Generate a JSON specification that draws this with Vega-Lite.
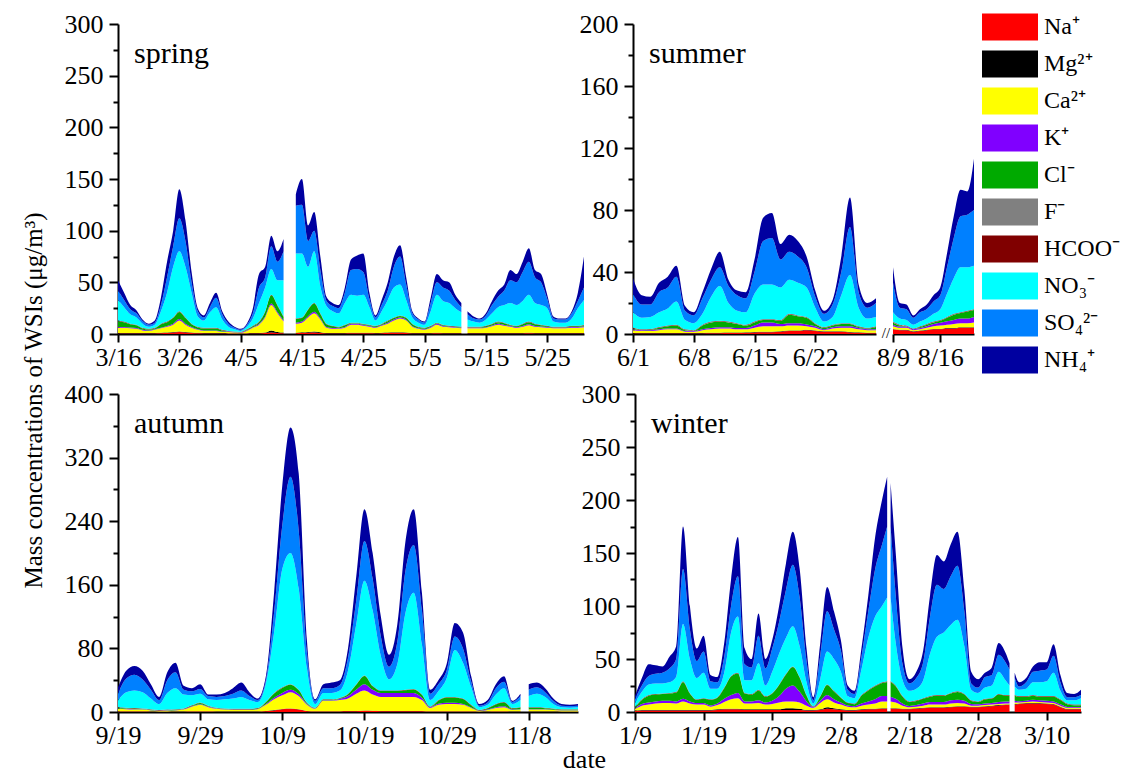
{
"$schema":"https://vega.github.io/schema/vega-lite/v6.json",
"background":"white",
"padding":{"left":21,"top":11,"right":5,"bottom":5},
"config":{
 "font":"Liberation Serif",
 "view":{"stroke":null},
 "axis":{"labelFont":"Liberation Serif","labelFontSize":26,"labelColor":"black","domainColor":"black","domainWidth":2,"tickColor":"black","tickWidth":2,"grid":false,"titleFont":"Liberation Serif","titleFontWeight":"normal","titleColor":"black","titleFontSize":26,"labelOverlap":false,"labelFlush":false,"labelBound":false},
 "axisX":{"tickSize":8,"labelPadding":2,"format":"%-m/%-d","labelAngle":0},
 "axisY":{"labelPadding":6},
 "title":{"font":"Liberation Serif","fontSize":30,"fontWeight":"normal","anchor":"start","frame":"group","offset":-58,"dx":16,"baseline":"alphabetic","color":"black"},
 "legend":{"labelFont":"Liberation Serif","labelFontSize":24,"labelColor":"black","symbolType":"M-2,-0.96H2V0.96H-2Z","symbolSize":784,"symbolStrokeWidth":0,"rowPadding":9,"labelOffset":20,"padding":0}
},
"datasets":{
"ions":[{"ion":"Na","rank":0,"label":"Na⁺"},{"ion":"Mg","rank":1,"label":"Mg²⁺"},{"ion":"Ca","rank":2,"label":"Ca²⁺"},{"ion":"K","rank":3,"label":"K⁺"},{"ion":"Cl","rank":4,"label":"Cl⁻"},{"ion":"F","rank":5,"label":"F⁻"},{"ion":"HCOO","rank":6,"label":"HCOO⁻"},{"ion":"NO3","rank":7,"label":"NO₃⁻"},{"ion":"SO4","rank":8,"label":"SO₄²⁻"},{"ion":"NH4","rank":9,"label":"NH₄⁺"}],
"spring":[
{"d":"2014/03/16","g":1,"Na":0.6,"Mg":0.4,"Ca":5,"K":0.8,"Cl":5.6,"F":0.2,"HCOO":0.4,"NO3":20,"SO4":9,"NH4":10},
{"d":"2014/03/17","g":1,"Na":0.6,"Mg":0.4,"Ca":5,"K":0.8,"Cl":4.6,"F":0.2,"HCOO":0.4,"NO3":14,"SO4":7,"NH4":7},
{"d":"2014/03/18","g":1,"Na":0.6,"Mg":0.4,"Ca":4.5,"K":0.7,"Cl":3.2,"F":0.2,"HCOO":0.4,"NO3":9,"SO4":5,"NH4":4},
{"d":"2014/03/19","g":1,"Na":0.6,"Mg":0.4,"Ca":4,"K":0.7,"Cl":2.7,"F":0.2,"HCOO":0.4,"NO3":7,"SO4":4,"NH4":3},
{"d":"2014/03/20","g":1,"Na":0.5,"Mg":0.4,"Ca":2.6,"K":0.5,"Cl":1.4,"F":0.2,"HCOO":0.4,"NO3":4,"SO4":2.5,"NH4":1.5},
{"d":"2014/03/21","g":1,"Na":0.5,"Mg":0.4,"Ca":2.1,"K":0.5,"Cl":0.9,"F":0.2,"HCOO":0.4,"NO3":2,"SO4":2,"NH4":1},
{"d":"2014/03/22","g":1,"Na":0.6,"Mg":0.4,"Ca":3,"K":0.5,"Cl":0.9,"F":0.2,"HCOO":0.4,"NO3":3,"SO4":2,"NH4":2},
{"d":"2014/03/23","g":1,"Na":0.8,"Mg":0.4,"Ca":4.3,"K":0.6,"Cl":3.3,"F":0.2,"HCOO":0.4,"NO3":12,"SO4":6,"NH4":7},
{"d":"2014/03/24","g":1,"Na":1,"Mg":0.4,"Ca":5.6,"K":0.8,"Cl":3.6,"F":0.2,"HCOO":0.4,"NO3":28,"SO4":15,"NH4":15},
{"d":"2014/03/25","g":1,"Na":1.5,"Mg":0.4,"Ca":7.1,"K":1,"Cl":5.4,"F":0.2,"HCOO":0.4,"NO3":49,"SO4":20,"NH4":15},
{"d":"2014/03/26","g":1,"Na":2,"Mg":0.4,"Ca":10.6,"K":1.5,"Cl":6.9,"F":0.2,"HCOO":0.4,"NO3":58,"SO4":32,"NH4":28},
{"d":"2014/03/27","g":1,"Na":1.5,"Mg":0.4,"Ca":7.1,"K":1,"Cl":5.4,"F":0.2,"HCOO":0.4,"NO3":49,"SO4":25,"NH4":20},
{"d":"2014/03/28","g":1,"Na":1,"Mg":0.4,"Ca":4.6,"K":0.8,"Cl":2.6,"F":0.2,"HCOO":0.4,"NO3":30,"SO4":10,"NH4":10},
{"d":"2014/03/29","g":1,"Na":0.7,"Mg":0.4,"Ca":2.9,"K":0.6,"Cl":1.8,"F":0.2,"HCOO":0.4,"NO3":10,"SO4":5,"NH4":3},
{"d":"2014/03/30","g":1,"Na":0.6,"Mg":0.4,"Ca":2,"K":0.5,"Cl":1.9,"F":0.2,"HCOO":0.4,"NO3":7,"SO4":3,"NH4":2},
{"d":"2014/03/31","g":1,"Na":0.6,"Mg":0.4,"Ca":2,"K":0.5,"Cl":1.9,"F":0.2,"HCOO":0.4,"NO3":15,"SO4":5,"NH4":4},
{"d":"2014/04/01","g":1,"Na":0.6,"Mg":0.4,"Ca":2,"K":0.5,"Cl":1.9,"F":0.2,"HCOO":0.4,"NO3":20,"SO4":9,"NH4":5},
{"d":"2014/04/02","g":1,"Na":0.5,"Mg":0.4,"Ca":1.1,"K":0.4,"Cl":1,"F":0.2,"HCOO":0.4,"NO3":10,"SO4":5,"NH4":3},
{"d":"2014/04/03","g":1,"Na":0.4,"Mg":0.4,"Ca":1.2,"K":0.3,"Cl":0.1,"F":0.2,"HCOO":0.4,"NO3":4,"SO4":3,"NH4":2},
{"d":"2014/04/04","g":1,"Na":0.4,"Mg":0.4,"Ca":0.7,"K":0.3,"Cl":0.1,"F":0.2,"HCOO":0.4,"NO3":2,"SO4":1.5,"NH4":1},
{"d":"2014/04/05","g":1,"Na":0.3,"Mg":0.4,"Ca":0.5,"K":0.2,"Cl":0,"F":0.2,"HCOO":0.4,"NO3":1,"SO4":1,"NH4":1},
{"d":"2014/04/06","g":1,"Na":0.4,"Mg":0.4,"Ca":2.2,"K":0.4,"Cl":0.5,"F":0.2,"HCOO":0.4,"NO3":2.5,"SO4":1.5,"NH4":1.5},
{"d":"2014/04/07","g":1,"Na":0.5,"Mg":0.4,"Ca":5.1,"K":0.6,"Cl":0.8,"F":0.2,"HCOO":0.4,"NO3":7,"SO4":5,"NH4":5},
{"d":"2014/04/08","g":1,"Na":0.6,"Mg":0.4,"Ca":8,"K":0.8,"Cl":1.6,"F":0.2,"HCOO":0.4,"NO3":18,"SO4":15,"NH4":13},
{"d":"2014/04/09","g":1,"Na":1,"Mg":0.4,"Ca":14.6,"K":1,"Cl":4.4,"F":0.2,"HCOO":0.4,"NO3":23,"SO4":10,"NH4":10},
{"d":"2014/04/10","g":1,"Na":1.5,"Mg":2,"Ca":24.5,"K":1.5,"Cl":7.9,"F":0.2,"HCOO":0.4,"NO3":25,"SO4":22,"NH4":10},
{"d":"2014/04/11","g":1,"Na":1,"Mg":1,"Ca":18,"K":1.2,"Cl":6.2,"F":0.2,"HCOO":0.4,"NO3":24,"SO4":18,"NH4":10},
{"d":"2014/04/12","g":1,"Na":0.8,"Mg":0.6,"Ca":10.6,"K":1,"Cl":3.4,"F":0.2,"HCOO":0.4,"NO3":35,"SO4":28,"NH4":12},
{"d":"2014/04/14","g":2,"Na":0.8,"Mg":0.5,"Ca":8.7,"K":1,"Cl":3.4,"F":0.2,"HCOO":0.4,"NO3":63,"SO4":46,"NH4":11},
{"d":"2014/04/15","g":2,"Na":1,"Mg":0.6,"Ca":9.4,"K":1,"Cl":3.4,"F":0.2,"HCOO":0.4,"NO3":62,"SO4":47,"NH4":25},
{"d":"2014/04/16","g":2,"Na":1.2,"Mg":0.8,"Ca":14,"K":1.2,"Cl":6.2,"F":0.2,"HCOO":0.4,"NO3":41,"SO4":25,"NH4":15},
{"d":"2014/04/17","g":2,"Na":1.5,"Mg":1,"Ca":17.5,"K":1.5,"Cl":7.9,"F":0.2,"HCOO":0.4,"NO3":50,"SO4":20,"NH4":18},
{"d":"2014/04/18","g":2,"Na":1,"Mg":0.6,"Ca":12.4,"K":1,"Cl":4.4,"F":0.2,"HCOO":0.4,"NO3":26,"SO4":16,"NH4":13},
{"d":"2014/04/19","g":2,"Na":0.6,"Mg":0.4,"Ca":5,"K":0.8,"Cl":2.6,"F":0.2,"HCOO":0.4,"NO3":17,"SO4":5,"NH4":4},
{"d":"2014/04/20","g":2,"Na":0.6,"Mg":0.4,"Ca":4,"K":0.7,"Cl":1.7,"F":0.2,"HCOO":0.4,"NO3":14,"SO4":5,"NH4":3},
{"d":"2014/04/21","g":2,"Na":0.6,"Mg":0.4,"Ca":4,"K":0.6,"Cl":0.8,"F":0.2,"HCOO":0.4,"NO3":13,"SO4":5,"NH4":3},
{"d":"2014/04/22","g":2,"Na":0.6,"Mg":0.4,"Ca":5,"K":0.7,"Cl":1.7,"F":0.2,"HCOO":0.4,"NO3":21,"SO4":10,"NH4":5},
{"d":"2014/04/23","g":2,"Na":0.8,"Mg":0.4,"Ca":7.8,"K":0.8,"Cl":0.6,"F":0.2,"HCOO":0.4,"NO3":27,"SO4":24,"NH4":10},
{"d":"2014/04/24","g":2,"Na":0.8,"Mg":0.4,"Ca":7.8,"K":0.8,"Cl":0.6,"F":0.2,"HCOO":0.4,"NO3":26,"SO4":26,"NH4":13},
{"d":"2014/04/25","g":2,"Na":0.8,"Mg":0.4,"Ca":6.8,"K":0.8,"Cl":0.6,"F":0.2,"HCOO":0.4,"NO3":28,"SO4":22,"NH4":18},
{"d":"2014/04/26","g":2,"Na":0.7,"Mg":0.4,"Ca":5.9,"K":0.7,"Cl":0.7,"F":0.2,"HCOO":0.4,"NO3":17,"SO4":8,"NH4":6},
{"d":"2014/04/27","g":2,"Na":0.6,"Mg":0.4,"Ca":5,"K":0.6,"Cl":0.8,"F":0.2,"HCOO":0.4,"NO3":5,"SO4":3,"NH4":2},
{"d":"2014/04/28","g":2,"Na":0.8,"Mg":0.4,"Ca":6.8,"K":0.7,"Cl":0.7,"F":0.2,"HCOO":0.4,"NO3":12,"SO4":6,"NH4":5},
{"d":"2014/04/29","g":2,"Na":1,"Mg":0.4,"Ca":8.6,"K":0.9,"Cl":1.5,"F":0.2,"HCOO":0.4,"NO3":20,"SO4":9,"NH4":8},
{"d":"2014/04/30","g":2,"Na":1.2,"Mg":0.4,"Ca":11.4,"K":1,"Cl":1.4,"F":0.2,"HCOO":0.4,"NO3":29,"SO4":20,"NH4":10},
{"d":"2014/05/01","g":2,"Na":1.2,"Mg":0.4,"Ca":13.4,"K":1,"Cl":1.4,"F":0.2,"HCOO":0.4,"NO3":30,"SO4":27,"NH4":11},
{"d":"2014/05/02","g":2,"Na":1,"Mg":0.4,"Ca":11.6,"K":0.9,"Cl":1.5,"F":0.2,"HCOO":0.4,"NO3":17,"SO4":15,"NH4":7},
{"d":"2014/05/03","g":2,"Na":0.6,"Mg":0.4,"Ca":6,"K":0.7,"Cl":1.7,"F":0.2,"HCOO":0.4,"NO3":6,"SO4":4,"NH4":2},
{"d":"2014/05/04","g":2,"Na":0.5,"Mg":0.4,"Ca":4.1,"K":0.5,"Cl":0.9,"F":0.2,"HCOO":0.4,"NO3":4,"SO4":3,"NH4":1},
{"d":"2014/05/05","g":2,"Na":0.5,"Mg":0.4,"Ca":3.1,"K":0.5,"Cl":0.9,"F":0.2,"HCOO":0.4,"NO3":3,"SO4":2,"NH4":1},
{"d":"2014/05/06","g":2,"Na":0.6,"Mg":0.4,"Ca":5,"K":0.7,"Cl":0.7,"F":0.2,"HCOO":0.4,"NO3":14,"SO4":8,"NH4":5},
{"d":"2014/05/07","g":2,"Na":0.7,"Mg":0.4,"Ca":7.9,"K":1,"Cl":0.4,"F":0.2,"HCOO":0.4,"NO3":27,"SO4":12,"NH4":8},
{"d":"2014/05/08","g":2,"Na":0.6,"Mg":0.4,"Ca":6,"K":0.8,"Cl":0.6,"F":0.2,"HCOO":0.4,"NO3":23,"SO4":13,"NH4":7},
{"d":"2014/05/09","g":2,"Na":0.6,"Mg":0.4,"Ca":5.5,"K":0.7,"Cl":0.2,"F":0.2,"HCOO":0.4,"NO3":22,"SO4":12,"NH4":8},
{"d":"2014/05/10","g":2,"Na":0.6,"Mg":0.4,"Ca":5,"K":0.6,"Cl":0.3,"F":0.2,"HCOO":0.4,"NO3":17.5,"SO4":8,"NH4":5},
{"d":"2014/05/11","g":2,"Na":0.6,"Mg":0.4,"Ca":4.5,"K":0.6,"Cl":0.3,"F":0.2,"HCOO":0.4,"NO3":14,"SO4":5,"NH4":4},
{"d":"2014/05/12","g":3,"Na":0.5,"Mg":0.4,"Ca":4.6,"K":0.6,"Cl":0.3,"F":0.2,"HCOO":0.4,"NO3":7,"SO4":5,"NH4":3},
{"d":"2014/05/13","g":3,"Na":0.5,"Mg":0.4,"Ca":4.6,"K":0.5,"Cl":0.4,"F":0.2,"HCOO":0.4,"NO3":5,"SO4":3,"NH4":2},
{"d":"2014/05/14","g":3,"Na":0.5,"Mg":0.4,"Ca":4.6,"K":0.5,"Cl":0.4,"F":0.2,"HCOO":0.4,"NO3":4,"SO4":3,"NH4":1},
{"d":"2014/05/15","g":3,"Na":0.5,"Mg":0.4,"Ca":5.1,"K":0.6,"Cl":0.8,"F":0.2,"HCOO":0.4,"NO3":6,"SO4":4,"NH4":2},
{"d":"2014/05/16","g":3,"Na":0.6,"Mg":0.4,"Ca":6.5,"K":0.7,"Cl":1.2,"F":0.2,"HCOO":0.4,"NO3":10,"SO4":8,"NH4":4},
{"d":"2014/05/17","g":3,"Na":0.6,"Mg":0.4,"Ca":8,"K":0.8,"Cl":1.6,"F":0.2,"HCOO":0.4,"NO3":14,"SO4":10,"NH4":6},
{"d":"2014/05/18","g":3,"Na":0.6,"Mg":0.4,"Ca":7,"K":0.8,"Cl":1.6,"F":0.2,"HCOO":0.4,"NO3":17,"SO4":14,"NH4":6},
{"d":"2014/05/19","g":3,"Na":0.6,"Mg":0.4,"Ca":6,"K":0.7,"Cl":0.7,"F":0.2,"HCOO":0.4,"NO3":21,"SO4":22,"NH4":10},
{"d":"2014/05/20","g":3,"Na":0.6,"Mg":0.4,"Ca":5,"K":0.7,"Cl":0.7,"F":0.2,"HCOO":0.4,"NO3":20,"SO4":22,"NH4":8},
{"d":"2014/05/21","g":3,"Na":0.6,"Mg":0.4,"Ca":6,"K":0.8,"Cl":1.6,"F":0.2,"HCOO":0.4,"NO3":22,"SO4":28,"NH4":10},
{"d":"2014/05/22","g":3,"Na":0.7,"Mg":0.4,"Ca":7.4,"K":1,"Cl":1.9,"F":0.2,"HCOO":0.4,"NO3":26,"SO4":32,"NH4":13},
{"d":"2014/05/23","g":3,"Na":0.6,"Mg":0.4,"Ca":6,"K":0.8,"Cl":1.6,"F":0.2,"HCOO":0.4,"NO3":20,"SO4":25,"NH4":7},
{"d":"2014/05/24","g":3,"Na":0.6,"Mg":0.4,"Ca":5.5,"K":0.8,"Cl":1.1,"F":0.2,"HCOO":0.4,"NO3":19,"SO4":22,"NH4":8},
{"d":"2014/05/25","g":3,"Na":0.6,"Mg":0.4,"Ca":5,"K":0.7,"Cl":0.7,"F":0.2,"HCOO":0.4,"NO3":17,"SO4":9,"NH4":4},
{"d":"2014/05/26","g":3,"Na":0.5,"Mg":0.4,"Ca":4.6,"K":0.6,"Cl":0.3,"F":0.2,"HCOO":0.4,"NO3":5,"SO4":3,"NH4":2},
{"d":"2014/05/27","g":3,"Na":0.5,"Mg":0.4,"Ca":4.6,"K":0.6,"Cl":0.3,"F":0.2,"HCOO":0.4,"NO3":4,"SO4":3,"NH4":1},
{"d":"2014/05/28","g":3,"Na":0.5,"Mg":0.4,"Ca":4.6,"K":0.6,"Cl":0.3,"F":0.2,"HCOO":0.4,"NO3":4,"SO4":3,"NH4":1},
{"d":"2014/05/29","g":3,"Na":0.5,"Mg":0.4,"Ca":5.1,"K":0.7,"Cl":0.7,"F":0.2,"HCOO":0.4,"NO3":7,"SO4":5,"NH4":2},
{"d":"2014/05/30","g":3,"Na":0.5,"Mg":0.4,"Ca":5.1,"K":0.8,"Cl":0.6,"F":0.2,"HCOO":0.4,"NO3":17,"SO4":7,"NH4":8},
{"d":"2014/05/31","g":3,"Na":0.5,"Mg":0.4,"Ca":5.6,"K":1,"Cl":0.9,"F":0.2,"HCOO":0.4,"NO3":24,"SO4":12,"NH4":30}
],
"summer":[
{"d":"2014/06/01","g":1,"Na":0.3,"Mg":0.3,"Ca":1.9,"K":0.5,"Cl":0.5,"F":0.2,"HCOO":0.3,"NO3":10,"SO4":12,"NH4":10},
{"d":"2014/06/02","g":1,"Na":0.3,"Mg":0.3,"Ca":1.4,"K":0.4,"Cl":0.1,"F":0.2,"HCOO":0.3,"NO3":7.5,"SO4":8.5,"NH4":6},
{"d":"2014/06/03","g":1,"Na":0.3,"Mg":0.3,"Ca":1.4,"K":0.4,"Cl":0.3,"F":0.2,"HCOO":0.3,"NO3":7.8,"SO4":8,"NH4":5},
{"d":"2014/06/04","g":1,"Na":0.3,"Mg":0.3,"Ca":1.9,"K":0.5,"Cl":1,"F":0.2,"HCOO":0.3,"NO3":9.5,"SO4":13,"NH4":6},
{"d":"2014/06/05","g":1,"Na":0.4,"Mg":0.3,"Ca":2.3,"K":0.6,"Cl":1.4,"F":0.2,"HCOO":0.3,"NO3":11,"SO4":13.5,"NH4":7},
{"d":"2014/06/06","g":1,"Na":0.4,"Mg":0.3,"Ca":2.3,"K":0.6,"Cl":1.9,"F":0.2,"HCOO":0.3,"NO3":15,"SO4":16,"NH4":7},
{"d":"2014/06/07","g":1,"Na":0.3,"Mg":0.3,"Ca":0.9,"K":0.4,"Cl":0.6,"F":0.2,"HCOO":0.3,"NO3":6,"SO4":6,"NH4":3},
{"d":"2014/06/08","g":1,"Na":0.3,"Mg":0.3,"Ca":0.9,"K":0.4,"Cl":0.1,"F":0.2,"HCOO":0.3,"NO3":4.5,"SO4":5,"NH4":2},
{"d":"2014/06/09","g":1,"Na":0.4,"Mg":0.3,"Ca":1.8,"K":0.6,"Cl":2.4,"F":0.2,"HCOO":0.3,"NO3":7,"SO4":10,"NH4":4},
{"d":"2014/06/10","g":1,"Na":0.5,"Mg":0.3,"Ca":2.2,"K":0.8,"Cl":3.7,"F":0.2,"HCOO":0.3,"NO3":16,"SO4":11,"NH4":7},
{"d":"2014/06/11","g":1,"Na":0.5,"Mg":0.3,"Ca":2.7,"K":0.8,"Cl":3.7,"F":0.2,"HCOO":0.3,"NO3":22.5,"SO4":12,"NH4":10},
{"d":"2014/06/12","g":1,"Na":0.6,"Mg":0.3,"Ca":2.6,"K":0.8,"Cl":3.2,"F":0.2,"HCOO":0.3,"NO3":12,"SO4":11,"NH4":4},
{"d":"2014/06/13","g":1,"Na":0.6,"Mg":0.3,"Ca":2.1,"K":0.8,"Cl":2.7,"F":0.2,"HCOO":0.3,"NO3":8,"SO4":10,"NH4":3},
{"d":"2014/06/14","g":1,"Na":0.8,"Mg":0.3,"Ca":1.9,"K":0.8,"Cl":1.7,"F":0.2,"HCOO":0.3,"NO3":8,"SO4":9,"NH4":4},
{"d":"2014/06/15","g":1,"Na":1,"Mg":0.3,"Ca":2.7,"K":1.5,"Cl":2,"F":0.2,"HCOO":0.3,"NO3":18,"SO4":14,"NH4":8},
{"d":"2014/06/16","g":1,"Na":1.2,"Mg":0.3,"Ca":3.5,"K":2.5,"Cl":1.5,"F":0.2,"HCOO":0.3,"NO3":22.5,"SO4":28,"NH4":15},
{"d":"2014/06/17","g":1,"Na":1.2,"Mg":0.3,"Ca":3.5,"K":2.5,"Cl":1.5,"F":0.2,"HCOO":0.3,"NO3":22.5,"SO4":30,"NH4":16},
{"d":"2014/06/18","g":1,"Na":1.5,"Mg":0.3,"Ca":3.2,"K":1.5,"Cl":2,"F":0.2,"HCOO":0.3,"NO3":21,"SO4":18,"NH4":10},
{"d":"2014/06/19","g":1,"Na":2,"Mg":0.3,"Ca":3.2,"K":1.5,"Cl":5.5,"F":0.2,"HCOO":0.3,"NO3":22,"SO4":18,"NH4":11},
{"d":"2014/06/20","g":1,"Na":2,"Mg":0.3,"Ca":3.2,"K":1.5,"Cl":4.5,"F":0.2,"HCOO":0.3,"NO3":21,"SO4":17,"NH4":10},
{"d":"2014/06/21","g":1,"Na":2.5,"Mg":0.3,"Ca":2.2,"K":1.2,"Cl":4.3,"F":0.2,"HCOO":0.3,"NO3":19,"SO4":13,"NH4":7},
{"d":"2014/06/22","g":1,"Na":2,"Mg":0.3,"Ca":1.7,"K":1,"Cl":1.5,"F":0.2,"HCOO":0.3,"NO3":10,"SO4":7,"NH4":4},
{"d":"2014/06/23","g":1,"Na":1.5,"Mg":0.3,"Ca":0.7,"K":0.6,"Cl":0.9,"F":0.2,"HCOO":0.3,"NO3":3.5,"SO4":5,"NH4":2},
{"d":"2014/06/24","g":1,"Na":1.5,"Mg":0.3,"Ca":1.7,"K":0.8,"Cl":1.2,"F":0.2,"HCOO":0.3,"NO3":5,"SO4":8,"NH4":3},
{"d":"2014/06/25","g":1,"Na":1.5,"Mg":0.3,"Ca":2.2,"K":1,"Cl":1.5,"F":0.2,"HCOO":0.3,"NO3":18,"SO4":15,"NH4":10},
{"d":"2014/06/26","g":1,"Na":1,"Mg":0.3,"Ca":2.7,"K":1,"Cl":1.5,"F":0.2,"HCOO":0.3,"NO3":31,"SO4":31,"NH4":19},
{"d":"2014/06/27","g":1,"Na":0.8,"Mg":0.3,"Ca":1.9,"K":0.8,"Cl":0.7,"F":0.2,"HCOO":0.3,"NO3":12,"SO4":10,"NH4":5},
{"d":"2014/06/28","g":1,"Na":0.5,"Mg":0.3,"Ca":1.7,"K":0.5,"Cl":0.5,"F":0.2,"HCOO":0.3,"NO3":6,"SO4":7,"NH4":3},
{"d":"2014/06/29","g":1,"Na":0.5,"Mg":0.3,"Ca":1.7,"K":0.6,"Cl":1.4,"F":0.2,"HCOO":0.3,"NO3":6,"SO4":9,"NH4":3},
{"d":"2014/08/09","g":2,"Na":3,"Mg":0.3,"Ca":1.7,"K":1,"Cl":1.5,"F":0.2,"HCOO":0.3,"NO3":6,"SO4":19,"NH4":10},
{"d":"2014/08/10","g":2,"Na":2.5,"Mg":0.3,"Ca":1.2,"K":0.8,"Cl":0.7,"F":0.2,"HCOO":0.3,"NO3":4,"SO4":7,"NH4":3},
{"d":"2014/08/11","g":2,"Na":2.5,"Mg":0.3,"Ca":1.2,"K":0.8,"Cl":0.2,"F":0.2,"HCOO":0.3,"NO3":3.5,"SO4":7,"NH4":3},
{"d":"2014/08/12","g":2,"Na":1.5,"Mg":0.3,"Ca":0.7,"K":0.5,"Cl":0,"F":0.2,"HCOO":0.3,"NO3":2.5,"SO4":4.5,"NH4":1.5},
{"d":"2014/08/13","g":2,"Na":2,"Mg":0.3,"Ca":0.7,"K":0.8,"Cl":0.7,"F":0.2,"HCOO":0.3,"NO3":3,"SO4":6,"NH4":2},
{"d":"2014/08/14","g":2,"Na":2.5,"Mg":0.3,"Ca":1.2,"K":1,"Cl":1,"F":0.2,"HCOO":0.3,"NO3":3.5,"SO4":6,"NH4":3},
{"d":"2014/08/15","g":2,"Na":3,"Mg":0.3,"Ca":1.7,"K":1.5,"Cl":1,"F":0.2,"HCOO":0.3,"NO3":5,"SO4":8,"NH4":4},
{"d":"2014/08/16","g":2,"Na":3,"Mg":0.3,"Ca":2.2,"K":1.8,"Cl":1.2,"F":0.2,"HCOO":0.3,"NO3":7,"SO4":9,"NH4":5},
{"d":"2014/08/17","g":2,"Na":3.5,"Mg":0.3,"Ca":2.2,"K":2.2,"Cl":2.3,"F":0.2,"HCOO":0.3,"NO3":15,"SO4":17,"NH4":9},
{"d":"2014/08/18","g":2,"Na":3.5,"Mg":0.3,"Ca":2.7,"K":2.5,"Cl":3.5,"F":0.2,"HCOO":0.3,"NO3":23,"SO4":26,"NH4":14},
{"d":"2014/08/19","g":2,"Na":4,"Mg":0.3,"Ca":2.7,"K":3,"Cl":3.5,"F":0.2,"HCOO":0.3,"NO3":29,"SO4":33,"NH4":17},
{"d":"2014/08/20","g":2,"Na":4,"Mg":0.3,"Ca":2.7,"K":3,"Cl":4.5,"F":0.2,"HCOO":0.3,"NO3":28,"SO4":34,"NH4":15},
{"d":"2014/08/21","g":2,"Na":4,"Mg":0.3,"Ca":3.2,"K":3.5,"Cl":4.5,"F":0.2,"HCOO":0.3,"NO3":28,"SO4":36,"NH4":33}
],
"autumn":[
{"d":"2014/09/19","g":1,"Na":0.5,"Mg":0.4,"Ca":3.1,"K":0.5,"Cl":0.8,"F":0.2,"HCOO":0.5,"NO3":8.6,"SO4":8.4,"NH4":8},
{"d":"2014/09/20","g":1,"Na":0.5,"Mg":0.4,"Ca":2.6,"K":0.5,"Cl":0.8,"F":0.2,"HCOO":0.5,"NO3":19.5,"SO4":17,"NH4":10},
{"d":"2014/09/21","g":1,"Na":0.5,"Mg":0.4,"Ca":2.1,"K":0.5,"Cl":0.8,"F":0.2,"HCOO":0.5,"NO3":22,"SO4":20,"NH4":11},
{"d":"2014/09/22","g":1,"Na":0.5,"Mg":0.4,"Ca":2.1,"K":0.4,"Cl":0.4,"F":0.2,"HCOO":0.5,"NO3":20.5,"SO4":16,"NH4":11},
{"d":"2014/09/23","g":1,"Na":0.4,"Mg":0.4,"Ca":1.2,"K":0.3,"Cl":0.5,"F":0.2,"HCOO":0.5,"NO3":13.5,"SO4":11,"NH4":7},
{"d":"2014/09/24","g":1,"Na":0.3,"Mg":0.4,"Ca":0.6,"K":0.3,"Cl":0.2,"F":0.2,"HCOO":0.5,"NO3":7.5,"SO4":5,"NH4":4},
{"d":"2014/09/25","g":1,"Na":0.3,"Mg":0.4,"Ca":0.8,"K":0.3,"Cl":0.5,"F":0.2,"HCOO":0.5,"NO3":21,"SO4":16,"NH4":10},
{"d":"2014/09/26","g":1,"Na":0.4,"Mg":0.4,"Ca":1.2,"K":0.3,"Cl":0.5,"F":0.2,"HCOO":0.5,"NO3":26.5,"SO4":20,"NH4":12},
{"d":"2014/09/27","g":1,"Na":0.4,"Mg":0.4,"Ca":2.2,"K":0.4,"Cl":0.4,"F":0.2,"HCOO":0.5,"NO3":17.5,"SO4":6,"NH4":5},
{"d":"2014/09/28","g":1,"Na":0.5,"Mg":0.4,"Ca":5.6,"K":0.6,"Cl":0.7,"F":0.2,"HCOO":0.5,"NO3":12.5,"SO4":5,"NH4":4},
{"d":"2014/09/29","g":1,"Na":0.5,"Mg":0.4,"Ca":8.1,"K":0.8,"Cl":1.5,"F":0.2,"HCOO":0.5,"NO3":11,"SO4":6,"NH4":6},
{"d":"2014/09/30","g":1,"Na":0.5,"Mg":0.4,"Ca":5.1,"K":0.6,"Cl":0.7,"F":0.2,"HCOO":0.5,"NO3":8,"SO4":4,"NH4":2},
{"d":"2014/10/01","g":1,"Na":0.4,"Mg":0.4,"Ca":3.2,"K":0.5,"Cl":0.3,"F":0.2,"HCOO":0.5,"NO3":9.5,"SO4":4,"NH4":3},
{"d":"2014/10/02","g":1,"Na":0.4,"Mg":0.4,"Ca":2.2,"K":0.4,"Cl":0.4,"F":0.2,"HCOO":0.5,"NO3":11.5,"SO4":4,"NH4":4},
{"d":"2014/10/03","g":1,"Na":0.4,"Mg":0.4,"Ca":1.7,"K":0.4,"Cl":0.4,"F":0.2,"HCOO":0.5,"NO3":13,"SO4":6,"NH4":7},
{"d":"2014/10/04","g":1,"Na":0.4,"Mg":0.4,"Ca":1.7,"K":0.4,"Cl":0.4,"F":0.2,"HCOO":0.5,"NO3":15,"SO4":8,"NH4":10},
{"d":"2014/10/05","g":1,"Na":0.4,"Mg":0.4,"Ca":1.7,"K":0.4,"Cl":0.4,"F":0.2,"HCOO":0.5,"NO3":11,"SO4":5,"NH4":5},
{"d":"2014/10/06","g":1,"Na":0.4,"Mg":0.4,"Ca":2.7,"K":0.4,"Cl":0.4,"F":0.2,"HCOO":0.5,"NO3":7.5,"SO4":2.5,"NH4":2},
{"d":"2014/10/07","g":1,"Na":1,"Mg":0.4,"Ca":7.6,"K":1,"Cl":2.3,"F":0.2,"HCOO":0.5,"NO3":23,"SO4":4,"NH4":5},
{"d":"2014/10/08","g":1,"Na":2,"Mg":0.4,"Ca":13.6,"K":2,"Cl":5.3,"F":0.2,"HCOO":0.5,"NO3":76,"SO4":25,"NH4":25},
{"d":"2014/10/09","g":1,"Na":3.5,"Mg":0.4,"Ca":17.1,"K":3,"Cl":6.3,"F":0.2,"HCOO":0.5,"NO3":149,"SO4":55,"NH4":50},
{"d":"2014/10/10","g":1,"Na":4,"Mg":0.4,"Ca":20.6,"K":3,"Cl":6.3,"F":0.2,"HCOO":0.5,"NO3":165,"SO4":96,"NH4":62},
{"d":"2014/10/11","g":1,"Na":3,"Mg":0.4,"Ca":16.6,"K":2.5,"Cl":4.8,"F":0.2,"HCOO":0.5,"NO3":127,"SO4":73,"NH4":72},
{"d":"2014/10/12","g":1,"Na":1,"Mg":0.4,"Ca":7.6,"K":1,"Cl":1.3,"F":0.2,"HCOO":0.5,"NO3":43,"SO4":20,"NH4":15},
{"d":"2014/10/13","g":1,"Na":0.5,"Mg":0.4,"Ca":3.1,"K":0.5,"Cl":0.3,"F":0.2,"HCOO":0.5,"NO3":4.5,"SO4":4,"NH4":2},
{"d":"2014/10/14","g":1,"Na":0.5,"Mg":0.4,"Ca":13.1,"K":0.8,"Cl":0.5,"F":0.2,"HCOO":0.5,"NO3":8,"SO4":6,"NH4":5},
{"d":"2014/10/15","g":1,"Na":0.5,"Mg":0.4,"Ca":13.1,"K":0.8,"Cl":0.5,"F":0.2,"HCOO":0.5,"NO3":8,"SO4":6,"NH4":7},
{"d":"2014/10/16","g":1,"Na":0.6,"Mg":0.4,"Ca":14,"K":1.5,"Cl":0.8,"F":0.2,"HCOO":0.5,"NO3":9,"SO4":7,"NH4":6},
{"d":"2014/10/17","g":1,"Na":0.8,"Mg":0.4,"Ca":15.8,"K":3,"Cl":2.3,"F":0.2,"HCOO":0.5,"NO3":29,"SO4":16,"NH4":12},
{"d":"2014/10/18","g":1,"Na":1,"Mg":0.4,"Ca":21.6,"K":5,"Cl":6.3,"F":0.2,"HCOO":0.5,"NO3":75,"SO4":30,"NH4":30},
{"d":"2014/10/19","g":1,"Na":1.5,"Mg":0.4,"Ca":25.1,"K":8,"Cl":10.3,"F":0.2,"HCOO":0.5,"NO3":119,"SO4":50,"NH4":40},
{"d":"2014/10/20","g":1,"Na":1.2,"Mg":0.4,"Ca":20.4,"K":6,"Cl":4.3,"F":0.2,"HCOO":0.5,"NO3":95,"SO4":40,"NH4":32},
{"d":"2014/10/21","g":1,"Na":1,"Mg":0.4,"Ca":17.6,"K":5,"Cl":2.3,"F":0.2,"HCOO":0.5,"NO3":43,"SO4":25,"NH4":25},
{"d":"2014/10/22","g":1,"Na":1,"Mg":0.4,"Ca":17.6,"K":5,"Cl":2.3,"F":0.2,"HCOO":0.5,"NO3":14,"SO4":16,"NH4":15},
{"d":"2014/10/23","g":1,"Na":1,"Mg":0.4,"Ca":17.6,"K":5,"Cl":2.3,"F":0.2,"HCOO":0.5,"NO3":33,"SO4":28,"NH4":22},
{"d":"2014/10/24","g":1,"Na":1,"Mg":0.4,"Ca":17.6,"K":5,"Cl":3.3,"F":0.2,"HCOO":0.5,"NO3":97,"SO4":53,"NH4":37},
{"d":"2014/10/25","g":1,"Na":1,"Mg":0.4,"Ca":17.6,"K":5,"Cl":4.3,"F":0.2,"HCOO":0.5,"NO3":121,"SO4":60,"NH4":45},
{"d":"2014/10/26","g":1,"Na":0.8,"Mg":0.4,"Ca":13.8,"K":3,"Cl":3.3,"F":0.2,"HCOO":0.5,"NO3":63,"SO4":43,"NH4":22},
{"d":"2014/10/27","g":1,"Na":0.5,"Mg":0.4,"Ca":4.1,"K":1,"Cl":0.3,"F":0.2,"HCOO":0.5,"NO3":8,"SO4":8,"NH4":5},
{"d":"2014/10/28","g":1,"Na":0.6,"Mg":0.4,"Ca":8,"K":1.5,"Cl":3.8,"F":0.2,"HCOO":0.5,"NO3":11,"SO4":9,"NH4":5},
{"d":"2014/10/29","g":1,"Na":0.7,"Mg":0.4,"Ca":8.9,"K":1.5,"Cl":6.8,"F":0.2,"HCOO":0.5,"NO3":23,"SO4":10,"NH4":8},
{"d":"2014/10/30","g":1,"Na":0.7,"Mg":0.4,"Ca":8.9,"K":1.5,"Cl":6.8,"F":0.2,"HCOO":0.5,"NO3":59,"SO4":17,"NH4":17},
{"d":"2014/10/31","g":1,"Na":0.6,"Mg":0.4,"Ca":8,"K":1.2,"Cl":6.1,"F":0.2,"HCOO":0.5,"NO3":45,"SO4":18,"NH4":20},
{"d":"2014/11/01","g":1,"Na":0.5,"Mg":0.4,"Ca":4.1,"K":0.8,"Cl":2.5,"F":0.2,"HCOO":0.5,"NO3":22,"SO4":7,"NH4":7},
{"d":"2014/11/02","g":1,"Na":0.3,"Mg":0.4,"Ca":0.6,"K":0.3,"Cl":0.2,"F":0.2,"HCOO":0.5,"NO3":3.5,"SO4":2,"NH4":2},
{"d":"2014/11/03","g":1,"Na":0.4,"Mg":0.4,"Ca":1.7,"K":0.5,"Cl":1.3,"F":0.2,"HCOO":0.5,"NO3":4,"SO4":3,"NH4":3},
{"d":"2014/11/04","g":1,"Na":0.5,"Mg":0.4,"Ca":4.1,"K":1,"Cl":3.3,"F":0.2,"HCOO":0.5,"NO3":12,"SO4":8,"NH4":5},
{"d":"2014/11/05","g":1,"Na":0.5,"Mg":0.4,"Ca":5.1,"K":1.2,"Cl":4.6,"F":0.2,"HCOO":0.5,"NO3":17.5,"SO4":8,"NH4":7},
{"d":"2014/11/06","g":1,"Na":0.4,"Mg":0.4,"Ca":1.7,"K":0.5,"Cl":1.3,"F":0.2,"HCOO":0.5,"NO3":5,"SO4":2.5,"NH4":1.5},
{"d":"2014/11/07","g":1,"Na":0.4,"Mg":0.4,"Ca":2.2,"K":0.5,"Cl":1.8,"F":0.2,"HCOO":0.5,"NO3":9,"SO4":5,"NH4":3},
{"d":"2014/11/08","g":2,"Na":0.4,"Mg":0.4,"Ca":2.2,"K":0.5,"Cl":1.8,"F":0.2,"HCOO":0.5,"NO3":14,"SO4":8,"NH4":7},
{"d":"2014/11/09","g":2,"Na":0.4,"Mg":0.4,"Ca":2.2,"K":0.5,"Cl":1.8,"F":0.2,"HCOO":0.5,"NO3":17,"SO4":8,"NH4":6},
{"d":"2014/11/10","g":2,"Na":0.4,"Mg":0.4,"Ca":2.2,"K":0.5,"Cl":1.3,"F":0.2,"HCOO":0.5,"NO3":13.5,"SO4":6,"NH4":5},
{"d":"2014/11/11","g":2,"Na":0.4,"Mg":0.4,"Ca":1.7,"K":0.4,"Cl":0.9,"F":0.2,"HCOO":0.5,"NO3":5.5,"SO4":4,"NH4":3},
{"d":"2014/11/12","g":2,"Na":0.3,"Mg":0.4,"Ca":1.3,"K":0.3,"Cl":0.5,"F":0.2,"HCOO":0.5,"NO3":2.5,"SO4":2,"NH4":2},
{"d":"2014/11/13","g":2,"Na":0.3,"Mg":0.4,"Ca":1.3,"K":0.3,"Cl":0.5,"F":0.2,"HCOO":0.5,"NO3":2,"SO4":2,"NH4":1.5},
{"d":"2014/11/14","g":2,"Na":0.3,"Mg":0.4,"Ca":1.3,"K":0.3,"Cl":0.5,"F":0.2,"HCOO":0.5,"NO3":2.5,"SO4":2,"NH4":2}
],
"winter":[
{"d":"2015/01/09","g":1,"Na":1,"Mg":0.5,"Ca":1.5,"K":0.5,"Cl":0.9,"F":0.2,"HCOO":0.4,"NO3":3.5,"SO4":3.5,"NH4":3},
{"d":"2015/01/10","g":1,"Na":1.5,"Mg":0.5,"Ca":4,"K":1.5,"Cl":3.9,"F":0.2,"HCOO":0.4,"NO3":7,"SO4":6,"NH4":7},
{"d":"2015/01/11","g":1,"Na":1.5,"Mg":0.5,"Ca":5,"K":2,"Cl":6.4,"F":0.2,"HCOO":0.4,"NO3":10,"SO4":8,"NH4":11},
{"d":"2015/01/12","g":1,"Na":1.5,"Mg":0.5,"Ca":6,"K":2,"Cl":6.4,"F":0.2,"HCOO":0.4,"NO3":10,"SO4":9,"NH4":8},
{"d":"2015/01/13","g":1,"Na":1.5,"Mg":0.5,"Ca":6.5,"K":2,"Cl":6.4,"F":0.2,"HCOO":0.4,"NO3":9.5,"SO4":10,"NH4":6},
{"d":"2015/01/14","g":1,"Na":1.5,"Mg":0.5,"Ca":6.5,"K":2,"Cl":6.9,"F":0.2,"HCOO":0.4,"NO3":10,"SO4":13,"NH4":11},
{"d":"2015/01/15","g":1,"Na":1.5,"Mg":0.5,"Ca":6,"K":2,"Cl":8.4,"F":0.2,"HCOO":0.4,"NO3":14,"SO4":17,"NH4":12},
{"d":"2015/01/16","g":1,"Na":1.5,"Mg":0.5,"Ca":8,"K":2.5,"Cl":15.9,"F":0.2,"HCOO":0.4,"NO3":54,"SO4":52,"NH4":40},
{"d":"2015/01/17","g":1,"Na":1.5,"Mg":0.5,"Ca":6,"K":2,"Cl":7.4,"F":0.2,"HCOO":0.4,"NO3":32,"SO4":28,"NH4":22},
{"d":"2015/01/18","g":1,"Na":1.5,"Mg":0.5,"Ca":5,"K":1.5,"Cl":2.9,"F":0.2,"HCOO":0.4,"NO3":20,"SO4":16,"NH4":12},
{"d":"2015/01/19","g":1,"Na":1.5,"Mg":0.5,"Ca":5,"K":1.5,"Cl":3.9,"F":0.2,"HCOO":0.4,"NO3":24,"SO4":20,"NH4":15},
{"d":"2015/01/20","g":1,"Na":1.5,"Mg":0.5,"Ca":3,"K":1.2,"Cl":5.2,"F":0.2,"HCOO":0.4,"NO3":10,"SO4":7,"NH4":6},
{"d":"2015/01/21","g":1,"Na":2,"Mg":0.5,"Ca":4,"K":1.5,"Cl":5.4,"F":0.2,"HCOO":0.4,"NO3":8,"SO4":6,"NH4":5},
{"d":"2015/01/22","g":1,"Na":2.5,"Mg":0.5,"Ca":6.5,"K":3,"Cl":9.9,"F":0.2,"HCOO":0.4,"NO3":14,"SO4":15,"NH4":13},
{"d":"2015/01/23","g":1,"Na":2.5,"Mg":0.5,"Ca":9,"K":4,"Cl":17.4,"F":0.2,"HCOO":0.4,"NO3":41,"SO4":25,"NH4":25},
{"d":"2015/01/24","g":1,"Na":2.5,"Mg":0.5,"Ca":10,"K":5,"Cl":18.4,"F":0.2,"HCOO":0.4,"NO3":53,"SO4":38,"NH4":37},
{"d":"2015/01/25","g":1,"Na":2,"Mg":0.5,"Ca":5.5,"K":2,"Cl":7.4,"F":0.2,"HCOO":0.4,"NO3":12,"SO4":15,"NH4":15},
{"d":"2015/01/26","g":1,"Na":2,"Mg":0.5,"Ca":5.5,"K":2,"Cl":6.4,"F":0.2,"HCOO":0.4,"NO3":13,"SO4":12,"NH4":8},
{"d":"2015/01/27","g":1,"Na":2,"Mg":0.5,"Ca":6,"K":2.5,"Cl":9.4,"F":0.2,"HCOO":0.4,"NO3":25,"SO4":26,"NH4":21},
{"d":"2015/01/28","g":1,"Na":2,"Mg":0.5,"Ca":4.5,"K":2,"Cl":5.4,"F":0.2,"HCOO":0.4,"NO3":10,"SO4":16,"NH4":9},
{"d":"2015/01/29","g":1,"Na":2,"Mg":0.5,"Ca":5,"K":3,"Cl":6.9,"F":0.2,"HCOO":0.4,"NO3":20,"SO4":22,"NH4":8},
{"d":"2015/01/30","g":1,"Na":2,"Mg":0.5,"Ca":6.5,"K":6,"Cl":10.4,"F":0.2,"HCOO":0.4,"NO3":29,"SO4":30,"NH4":15},
{"d":"2015/01/31","g":1,"Na":2,"Mg":1.5,"Ca":6.5,"K":12,"Cl":13.4,"F":0.2,"HCOO":0.4,"NO3":34,"SO4":45,"NH4":25},
{"d":"2015/02/01","g":1,"Na":2,"Mg":1.5,"Ca":6.5,"K":15,"Cl":17.4,"F":0.2,"HCOO":0.4,"NO3":38,"SO4":58,"NH4":31},
{"d":"2015/02/02","g":1,"Na":2,"Mg":1,"Ca":6,"K":10,"Cl":13.4,"F":0.2,"HCOO":0.4,"NO3":29,"SO4":46,"NH4":27},
{"d":"2015/02/03","g":1,"Na":1.5,"Mg":0.5,"Ca":4,"K":4,"Cl":5.4,"F":0.2,"HCOO":0.4,"NO3":12,"SO4":20,"NH4":12},
{"d":"2015/02/04","g":1,"Na":1.5,"Mg":0.5,"Ca":2,"K":0.8,"Cl":0.1,"F":0.2,"HCOO":0.4,"NO3":2.5,"SO4":3,"NH4":3},
{"d":"2015/02/05","g":1,"Na":2,"Mg":0.5,"Ca":6,"K":2,"Cl":3.9,"F":0.2,"HCOO":0.4,"NO3":16,"SO4":22,"NH4":12},
{"d":"2015/02/06","g":1,"Na":3,"Mg":1.5,"Ca":7.5,"K":4,"Cl":9.4,"F":0.2,"HCOO":0.4,"NO3":31,"SO4":38,"NH4":23},
{"d":"2015/02/07","g":1,"Na":2.5,"Mg":1,"Ca":5.5,"K":3,"Cl":7.4,"F":0.2,"HCOO":0.4,"NO3":30,"SO4":28,"NH4":17},
{"d":"2015/02/08","g":1,"Na":2,"Mg":0.5,"Ca":4.5,"K":2,"Cl":4.4,"F":0.2,"HCOO":0.4,"NO3":24,"SO4":20,"NH4":10},
{"d":"2015/02/09","g":1,"Na":1.5,"Mg":0.5,"Ca":3,"K":1.2,"Cl":2.2,"F":0.2,"HCOO":0.4,"NO3":6,"SO4":6,"NH4":4},
{"d":"2015/02/10","g":1,"Na":1.5,"Mg":0.5,"Ca":2.5,"K":1,"Cl":1.9,"F":0.2,"HCOO":0.4,"NO3":5,"SO4":4,"NH4":3},
{"d":"2015/02/11","g":1,"Na":2,"Mg":0.5,"Ca":3.5,"K":2,"Cl":7.4,"F":0.2,"HCOO":0.4,"NO3":24,"SO4":12,"NH4":8},
{"d":"2015/02/12","g":1,"Na":2.5,"Mg":0.5,"Ca":4,"K":3,"Cl":10.4,"F":0.2,"HCOO":0.4,"NO3":49,"SO4":25,"NH4":15},
{"d":"2015/02/13","g":1,"Na":2.5,"Mg":0.5,"Ca":5,"K":4,"Cl":12.4,"F":0.2,"HCOO":0.4,"NO3":65,"SO4":45,"NH4":30},
{"d":"2015/02/14","g":1,"Na":3,"Mg":0.5,"Ca":6.5,"K":5,"Cl":12.4,"F":0.2,"HCOO":0.4,"NO3":72,"SO4":58,"NH4":42},
{"d":"2015/02/14 18:00","g":1,"Na":3,"Mg":0.5,"Ca":6.5,"K":5,"Cl":13.4,"F":0.2,"HCOO":0.4,"NO3":79,"SO4":67,"NH4":47},
{"d":"2015/02/15 06:00","g":2,"Na":3,"Mg":0.5,"Ca":6.5,"K":4.5,"Cl":13.9,"F":0.2,"HCOO":0.4,"NO3":79,"SO4":67,"NH4":41},
{"d":"2015/02/16","g":2,"Na":3,"Mg":0.5,"Ca":5.5,"K":3.5,"Cl":11.9,"F":0.2,"HCOO":0.4,"NO3":40,"SO4":45,"NH4":40},
{"d":"2015/02/17","g":2,"Na":2.5,"Mg":0.5,"Ca":3,"K":2,"Cl":6.4,"F":0.2,"HCOO":0.4,"NO3":15,"SO4":15,"NH4":15},
{"d":"2015/02/18","g":2,"Na":2.5,"Mg":0.5,"Ca":1.5,"K":1.2,"Cl":3.7,"F":0.2,"HCOO":0.4,"NO3":10,"SO4":7,"NH4":4},
{"d":"2015/02/19","g":2,"Na":3,"Mg":0.5,"Ca":1.5,"K":1.5,"Cl":3.9,"F":0.2,"HCOO":0.4,"NO3":11,"SO4":10,"NH4":6},
{"d":"2015/02/20","g":2,"Na":3.5,"Mg":0.5,"Ca":2,"K":2,"Cl":4.4,"F":0.2,"HCOO":0.4,"NO3":17,"SO4":17,"NH4":11},
{"d":"2015/02/21","g":2,"Na":4,"Mg":0.5,"Ca":2.5,"K":2.5,"Cl":4.9,"F":0.2,"HCOO":0.4,"NO3":40,"SO4":35,"NH4":20},
{"d":"2015/02/22","g":2,"Na":4,"Mg":0.5,"Ca":2.5,"K":2.5,"Cl":5.9,"F":0.2,"HCOO":0.4,"NO3":55,"SO4":49,"NH4":28},
{"d":"2015/02/23","g":2,"Na":4,"Mg":0.5,"Ca":2.5,"K":2.5,"Cl":5.9,"F":0.2,"HCOO":0.4,"NO3":59,"SO4":41,"NH4":26},
{"d":"2015/02/24","g":2,"Na":4.5,"Mg":0.5,"Ca":3,"K":3,"Cl":6.4,"F":0.2,"HCOO":0.4,"NO3":64,"SO4":46,"NH4":30},
{"d":"2015/02/25","g":2,"Na":5,"Mg":0.5,"Ca":3,"K":3,"Cl":7.4,"F":0.2,"HCOO":0.4,"NO3":67.5,"SO4":51,"NH4":32},
{"d":"2015/02/26","g":2,"Na":5,"Mg":0.5,"Ca":2.5,"K":2.5,"Cl":5.9,"F":0.2,"HCOO":0.4,"NO3":45,"SO4":33,"NH4":20},
{"d":"2015/02/27","g":2,"Na":4.5,"Mg":0.5,"Ca":1,"K":1.5,"Cl":2.9,"F":0.2,"HCOO":0.4,"NO3":10,"SO4":6,"NH4":11},
{"d":"2015/02/28","g":2,"Na":4.5,"Mg":0.5,"Ca":1,"K":1.2,"Cl":2.2,"F":0.2,"HCOO":0.4,"NO3":8,"SO4":5,"NH4":8},
{"d":"2015/03/01","g":2,"Na":5,"Mg":0.5,"Ca":1,"K":1.5,"Cl":3.9,"F":0.2,"HCOO":0.4,"NO3":10.5,"SO4":10,"NH4":4},
{"d":"2015/03/02","g":2,"Na":5.5,"Mg":0.5,"Ca":1,"K":1.5,"Cl":3.9,"F":0.2,"HCOO":0.4,"NO3":12,"SO4":10,"NH4":7},
{"d":"2015/03/03","g":2,"Na":6,"Mg":0.5,"Ca":1,"K":2,"Cl":6.9,"F":0.2,"HCOO":0.4,"NO3":21,"SO4":16,"NH4":11},
{"d":"2015/03/04","g":2,"Na":6.5,"Mg":0.5,"Ca":1,"K":2,"Cl":5.4,"F":0.2,"HCOO":0.4,"NO3":14,"SO4":17,"NH4":9},
{"d":"2015/03/04 14:00","g":2,"Na":6.5,"Mg":0.5,"Ca":1,"K":2,"Cl":5.4,"F":0.2,"HCOO":0.4,"NO3":9,"SO4":15,"NH4":6},
{"d":"2015/03/05 08:00","g":3,"Na":7,"Mg":0.5,"Ca":1.5,"K":1.5,"Cl":4.9,"F":0.2,"HCOO":0.4,"NO3":8,"SO4":8,"NH4":5},
{"d":"2015/03/06","g":3,"Na":7.5,"Mg":0.5,"Ca":1,"K":1.2,"Cl":4.2,"F":0.2,"HCOO":0.4,"NO3":6,"SO4":3,"NH4":4},
{"d":"2015/03/07","g":3,"Na":8,"Mg":0.5,"Ca":1,"K":1.2,"Cl":3.7,"F":0.2,"HCOO":0.4,"NO3":7,"SO4":6,"NH4":4},
{"d":"2015/03/08","g":3,"Na":8,"Mg":0.5,"Ca":1.5,"K":1.5,"Cl":3.9,"F":0.2,"HCOO":0.4,"NO3":12,"SO4":10,"NH4":5},
{"d":"2015/03/09","g":3,"Na":8,"Mg":0.5,"Ca":1,"K":1.5,"Cl":3.4,"F":0.2,"HCOO":0.4,"NO3":13,"SO4":11,"NH4":8},
{"d":"2015/03/10","g":3,"Na":7.5,"Mg":0.5,"Ca":1,"K":1.5,"Cl":3.9,"F":0.2,"HCOO":0.4,"NO3":14,"SO4":11,"NH4":7},
{"d":"2015/03/11","g":3,"Na":7,"Mg":0.5,"Ca":1,"K":1.5,"Cl":4.4,"F":0.2,"HCOO":0.4,"NO3":22,"SO4":16,"NH4":11},
{"d":"2015/03/12","g":3,"Na":4.5,"Mg":0.5,"Ca":1,"K":1.2,"Cl":4.2,"F":0.2,"HCOO":0.4,"NO3":8,"SO4":8,"NH4":7},
{"d":"2015/03/13","g":3,"Na":2.5,"Mg":0.5,"Ca":1,"K":0.8,"Cl":2.6,"F":0.2,"HCOO":0.4,"NO3":3,"SO4":3,"NH4":4},
{"d":"2015/03/14","g":3,"Na":2.5,"Mg":0.5,"Ca":1,"K":0.8,"Cl":1.6,"F":0.2,"HCOO":0.4,"NO3":4,"SO4":3,"NH4":3},
{"d":"2015/03/15","g":3,"Na":2.5,"Mg":0.5,"Ca":1,"K":0.8,"Cl":1.6,"F":0.2,"HCOO":0.4,"NO3":6,"SO4":3,"NH4":5}
]
},
"bounds":"flush",
"spacing":370,
"resolve":{"scale":{"x":"independent","y":"independent","color":"shared"}},
"vconcat":[
{"bounds":"flush","spacing":49,"resolve":{"scale":{"x":"independent","y":"independent","color":"shared"}},
 "hconcat":[
 {"width":466,"height":310,"title":{"text":"spring"},
  "data":{"name":"spring"},
  "transform":[{"fold":["Na","Mg","Ca","K","Cl","F","HCOO","NO3","SO4","NH4"],"as":["ion","v"]},{"lookup":"ion","from":{"data":{"name":"ions"},"key":"ion","fields":["rank","label"]}}],
  "encoding":{
   "x":{"field":"d","type":"temporal","scale":{"domain":[{"year":2014,"month":3,"date":16},{"year":2014,"month":5,"date":31}],"nice":false},
        "axis":{"title":null,"values":[{"year":2014,"month":3,"date":16},{"year":2014,"month":3,"date":26},{"year":2014,"month":4,"date":5},{"year":2014,"month":4,"date":15},{"year":2014,"month":4,"date":25},{"year":2014,"month":5,"date":5},{"year":2014,"month":5,"date":15},{"year":2014,"month":5,"date":25}]}},
   "y":{"field":"v","type":"quantitative","stack":"zero","scale":{"domain":[0,300],"nice":false},
        "axis":{"title":"Mass concentrations of WSIs (μg/m³)","titleFontSize":25,"titleX":-77,"titleY":376,"titleAngle":-90,"titleAlign":"center","titleBaseline":"alphabetic",
                "values":[0,25,50,75,100,125,150,175,200,225,250,275,300],"labelExpr":"datum.value % 50 === 0 ? datum.label : ''",
                "tickSize":{"condition":{"test":"datum.value % 50 === 0","value":9},"value":5}}},
   "color":{"field":"label","type":"nominal","scale":{"domain":["Na⁺","Mg²⁺","Ca²⁺","K⁺","Cl⁻","F⁻","HCOO⁻","NO₃⁻","SO₄²⁻","NH₄⁺"],"range":["#ff0000","#000000","#ffff00","#8000ff","#00aa00","#808080","#800000","#00ffff","#0080ff","#0000a0"]},
            "legend":{"title":null,"orient":"none","legendX":878,"legendY":-11}},
   "order":{"field":"rank","type":"quantitative"}
  },
  "layer":[
   {"transform":[{"filter":"datum.g == 1"}],"mark":{"type":"area","interpolate":"monotone","clip":true}},
   {"transform":[{"filter":"datum.g == 2"}],"mark":{"type":"area","interpolate":"monotone","clip":true}},
   {"transform":[{"filter":"datum.g == 3"}],"mark":{"type":"area","interpolate":"monotone","clip":true}}
  ]
 },
 {"bounds":"flush","spacing":17,"resolve":{"scale":{"x":"independent","y":"independent","color":"shared"}},
  "hconcat":[
  {"width":243,"height":310,"title":{"text":"summer"},
   "data":{"name":"summer"},
   "transform":[{"filter":"datum.g == 1"},{"fold":["Na","Mg","Ca","K","Cl","F","HCOO","NO3","SO4","NH4"],"as":["ion","v"]},{"lookup":"ion","from":{"data":{"name":"ions"},"key":"ion","fields":["rank","label"]}}],
   "mark":{"type":"area","interpolate":"monotone","clip":true},
   "encoding":{
    "x":{"field":"d","type":"temporal","scale":{"domain":[{"year":2014,"month":6,"date":1},{"year":2014,"month":6,"date":29}],"nice":false},
         "axis":{"title":null,"values":[{"year":2014,"month":6,"date":1},{"year":2014,"month":6,"date":8},{"year":2014,"month":6,"date":15},{"year":2014,"month":6,"date":22}]}},
    "y":{"field":"v","type":"quantitative","stack":"zero","scale":{"domain":[0,200],"nice":false},
         "axis":{"title":null,"values":[0,20,40,60,80,100,120,140,160,180,200],"labelExpr":"datum.value % 40 === 0 ? datum.label : ''",
                 "tickSize":{"condition":{"test":"datum.value % 40 === 0","value":9},"value":5}}},
    "color":{"field":"label","type":"nominal","scale":{"domain":["Na⁺","Mg²⁺","Ca²⁺","K⁺","Cl⁻","F⁻","HCOO⁻","NO₃⁻","SO₄²⁻","NH₄⁺"],"range":["#ff0000","#000000","#ffff00","#8000ff","#00aa00","#808080","#800000","#00ffff","#0080ff","#0000a0"]},
             "legend":{"title":null,"orient":"none","legendX":878,"legendY":-11}},
    "order":{"field":"rank","type":"quantitative"}
   }
  },
  {"width":81,"height":310,
   "layer":[
    {"data":{"name":"summer"},
     "transform":[{"filter":"datum.g == 2"},{"fold":["Na","Mg","Ca","K","Cl","F","HCOO","NO3","SO4","NH4"],"as":["ion","v"]},{"lookup":"ion","from":{"data":{"name":"ions"},"key":"ion","fields":["rank","label"]}}],
     "mark":{"type":"area","interpolate":"monotone","clip":true},
     "encoding":{
      "x":{"field":"d","type":"temporal","scale":{"domain":[{"year":2014,"month":8,"date":9},{"year":2014,"month":8,"date":21}],"nice":false},
           "axis":{"title":null,"values":[{"year":2014,"month":8,"date":9},{"year":2014,"month":8,"date":16}]}},
      "y":{"field":"v","type":"quantitative","stack":"zero","scale":{"domain":[0,200],"nice":false},"axis":null},
      "color":{"field":"label","type":"nominal","scale":{"domain":["Na⁺","Mg²⁺","Ca²⁺","K⁺","Cl⁻","F⁻","HCOO⁻","NO₃⁻","SO₄²⁻","NH₄⁺"],"range":["#ff0000","#000000","#ffff00","#8000ff","#00aa00","#808080","#800000","#00ffff","#0080ff","#0000a0"]},
               "legend":{"title":null,"orient":"none","legendX":878,"legendY":-11}},
      "order":{"field":"rank","type":"quantitative"}
     }
    },
    {"data":{"values":[{}]},
     "mark":{"type":"text","text":"//","dx":-7,"dy":-1,"fontSize":15,"baseline":"middle","align":"center","color":"black","font":"Liberation Serif"},
     "encoding":{
      "x":{"datum":{"year":2014,"month":8,"date":9},"type":"temporal","scale":{"domain":[{"year":2014,"month":8,"date":9},{"year":2014,"month":8,"date":21}],"nice":false}},
      "y":{"datum":0,"type":"quantitative","scale":{"domain":[0,200],"nice":false}}
     }
    }
   ]
  }
  ]
 }
 ]
},
{"bounds":"flush","spacing":57,"resolve":{"scale":{"x":"independent","y":"independent","color":"shared"}},
 "hconcat":[
 {"width":460,"height":318,"title":{"text":"autumn"},
  "data":{"name":"autumn"},
  "transform":[{"fold":["Na","Mg","Ca","K","Cl","F","HCOO","NO3","SO4","NH4"],"as":["ion","v"]},{"lookup":"ion","from":{"data":{"name":"ions"},"key":"ion","fields":["rank","label"]}}],
  "encoding":{
   "x":{"field":"d","type":"temporal","scale":{"domain":[{"year":2014,"month":9,"date":19},{"year":2014,"month":11,"date":14}],"nice":false},
        "axis":{"title":"date","titleX":466,"titleY":55,"titleAlign":"center","titleBaseline":"alphabetic","titleAngle":0,
                "values":[{"year":2014,"month":9,"date":19},{"year":2014,"month":9,"date":29},{"year":2014,"month":10,"date":9},{"year":2014,"month":10,"date":19},{"year":2014,"month":10,"date":29},{"year":2014,"month":11,"date":8}]}},
   "y":{"field":"v","type":"quantitative","stack":"zero","scale":{"domain":[0,400],"nice":false},
        "axis":{"title":null,"values":[0,40,80,120,160,200,240,280,320,360,400],"labelExpr":"datum.value % 80 === 0 ? datum.label : ''",
                "tickSize":{"condition":{"test":"datum.value % 80 === 0","value":9},"value":5}}},
   "color":{"field":"label","type":"nominal","scale":{"domain":["Na⁺","Mg²⁺","Ca²⁺","K⁺","Cl⁻","F⁻","HCOO⁻","NO₃⁻","SO₄²⁻","NH₄⁺"],"range":["#ff0000","#000000","#ffff00","#8000ff","#00aa00","#808080","#800000","#00ffff","#0080ff","#0000a0"]},
            "legend":{"title":null,"orient":"none","legendX":878,"legendY":-11}},
   "order":{"field":"rank","type":"quantitative"}
  },
  "layer":[
   {"transform":[{"filter":"datum.g == 1"}],"mark":{"type":"area","interpolate":"monotone","clip":true}},
   {"transform":[{"filter":"datum.g == 2"}],"mark":{"type":"area","interpolate":"monotone","clip":true}}
  ]
 },
 {"width":446,"height":318,"title":{"text":"winter"},
  "data":{"name":"winter"},
  "transform":[{"fold":["Na","Mg","Ca","K","Cl","F","HCOO","NO3","SO4","NH4"],"as":["ion","v"]},{"lookup":"ion","from":{"data":{"name":"ions"},"key":"ion","fields":["rank","label"]}}],
  "encoding":{
   "x":{"field":"d","type":"temporal","scale":{"domain":[{"year":2015,"month":1,"date":9},{"year":2015,"month":3,"date":15}],"nice":false},
        "axis":{"title":null,"values":[{"year":2015,"month":1,"date":9},{"year":2015,"month":1,"date":19},{"year":2015,"month":1,"date":29},{"year":2015,"month":2,"date":8},{"year":2015,"month":2,"date":18},{"year":2015,"month":2,"date":28},{"year":2015,"month":3,"date":10}]}},
   "y":{"field":"v","type":"quantitative","stack":"zero","scale":{"domain":[0,300],"nice":false},
        "axis":{"title":null,"values":[0,25,50,75,100,125,150,175,200,225,250,275,300],"labelExpr":"datum.value % 50 === 0 ? datum.label : ''",
                "tickSize":{"condition":{"test":"datum.value % 50 === 0","value":9},"value":5}}},
   "color":{"field":"label","type":"nominal","scale":{"domain":["Na⁺","Mg²⁺","Ca²⁺","K⁺","Cl⁻","F⁻","HCOO⁻","NO₃⁻","SO₄²⁻","NH₄⁺"],"range":["#ff0000","#000000","#ffff00","#8000ff","#00aa00","#808080","#800000","#00ffff","#0080ff","#0000a0"]},
            "legend":{"title":null,"orient":"none","legendX":878,"legendY":-11}},
   "order":{"field":"rank","type":"quantitative"}
  },
  "layer":[
   {"transform":[{"filter":"datum.g == 1"}],"mark":{"type":"area","interpolate":"monotone","clip":true}},
   {"transform":[{"filter":"datum.g == 2"}],"mark":{"type":"area","interpolate":"monotone","clip":true}},
   {"transform":[{"filter":"datum.g == 3"}],"mark":{"type":"area","interpolate":"monotone","clip":true}}
  ]
 }
 ]
}
]
}
